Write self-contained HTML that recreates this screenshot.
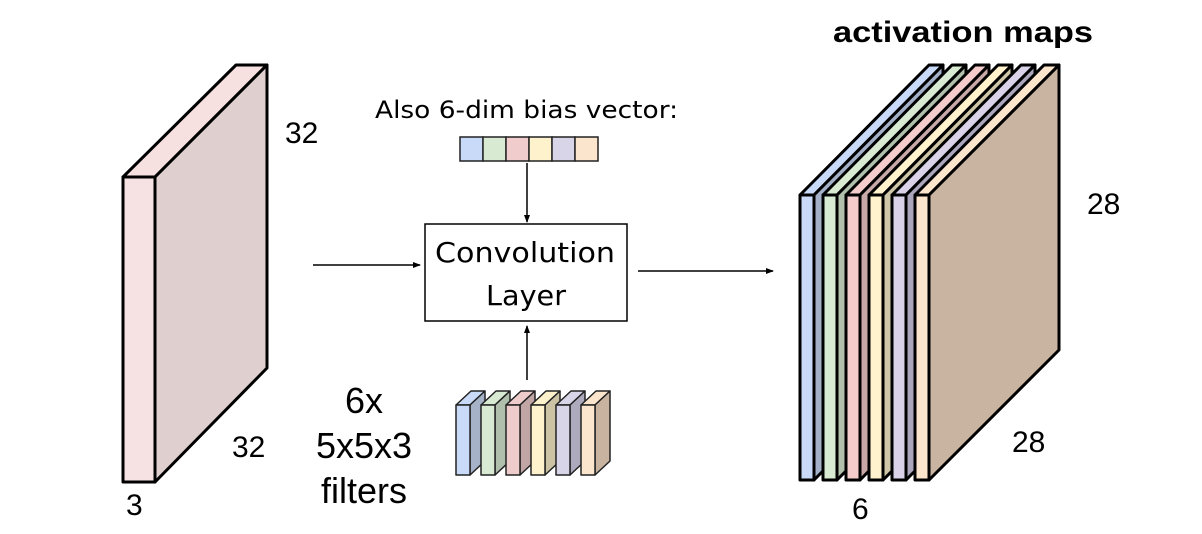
<!DOCTYPE html>
<html><head><style>
html,body{margin:0;padding:0;background:#fff;}
svg{display:block}
text{fill:#000}
.l{font-family:"Liberation Sans",sans-serif}
.d{font-family:"DejaVu Sans",sans-serif}
</style></head><body>
<svg width="1202" height="534" viewBox="0 0 1202 534" xmlns="http://www.w3.org/2000/svg">
<defs><marker id="ar" markerWidth="8" markerHeight="8" refX="7" refY="4" orient="auto" markerUnits="userSpaceOnUse"><path d="M0,1 L8,4 L0,7 z" fill="#000"/></marker></defs>
<g stroke="#000" stroke-width="3" stroke-linejoin="round">
<polygon points="123,177 236,65 267,65 155,177" fill="#f6e0e0"/>
<polygon points="155,177 267,65 267,368 155,482" fill="#dfcfcf"/>
<rect x="123" y="177" width="32" height="305" fill="#f6e2e2"/>
</g>
<text class="l" x="285" y="143" font-size="30">32</text>
<text class="l" x="232" y="457" font-size="30">32</text>
<text class="l" x="126" y="515" font-size="30">3</text>
<text class="d" x="375" y="118" font-size="24" textLength="303" lengthAdjust="spacingAndGlyphs">Also 6-dim bias vector:</text>
<g stroke="#222" stroke-width="1.5">
<rect x="460" y="137" width="23" height="24" fill="#c9daf8"/>
<rect x="483" y="137" width="23" height="24" fill="#d9ead3"/>
<rect x="506" y="137" width="23" height="24" fill="#f0cccc"/>
<rect x="529" y="137" width="23" height="24" fill="#fdf2cc"/>
<rect x="552" y="137" width="23" height="24" fill="#d9d5e9"/>
<rect x="575" y="137" width="23" height="24" fill="#fbe5cd"/>
</g>
<g stroke="#000" stroke-width="1.5">
<line x1="527" y1="163" x2="527" y2="222" marker-end="url(#ar)"/>
<line x1="527" y1="380" x2="527" y2="326" marker-end="url(#ar)"/>
<line x1="313" y1="265" x2="420" y2="265" marker-end="url(#ar)"/>
<line x1="638" y1="271" x2="773" y2="271" marker-end="url(#ar)"/>
</g>
<rect x="425" y="224" width="202" height="97" fill="#fff" stroke="#000" stroke-width="1.5"/>
<text class="d" x="435" y="262" font-size="28" textLength="180" lengthAdjust="spacingAndGlyphs">Convolution</text>
<text class="d" x="486" y="305" font-size="28" textLength="80" lengthAdjust="spacingAndGlyphs">Layer</text>
<g stroke="#222" stroke-width="1.5" stroke-linejoin="round">
<g><polygon points="456,405 471,391 485,391 470,405" fill="#c9daf8"/><polygon points="470,405 485,391 485,461 470,475" fill="#a6b2c8"/><rect x="456" y="405" width="14" height="70" fill="#c9daf8"/></g>
<g><polygon points="481,405 496,391 510,391 495,405" fill="#d9ead3"/><polygon points="495,405 510,391 510,461 495,475" fill="#b0bfab"/><rect x="481" y="405" width="14" height="70" fill="#d9ead3"/></g>
<g><polygon points="506,405 521,391 535,391 520,405" fill="#efcccc"/><polygon points="520,405 535,391 535,461 520,475" fill="#c2a6a6"/><rect x="506" y="405" width="14" height="70" fill="#efcccc"/></g>
<g><polygon points="531,405 546,391 560,391 545,405" fill="#fdf2cc"/><polygon points="545,405 560,391 560,461 545,475" fill="#cbc3a4"/><rect x="531" y="405" width="14" height="70" fill="#fdf2cc"/></g>
<g><polygon points="556,405 571,391 585,391 570,405" fill="#d9d5e9"/><polygon points="570,405 585,391 585,461 570,475" fill="#aeaabd"/><rect x="556" y="405" width="14" height="70" fill="#d9d5e9"/></g>
<g><polygon points="581,405 596,391 610,391 595,405" fill="#fbe5cd"/><polygon points="595,405 610,391 610,461 595,475" fill="#c7b39f"/><rect x="581" y="405" width="14" height="70" fill="#fbe5cd"/></g>
</g>
<text class="l" x="364" y="413" font-size="36" text-anchor="middle">6x</text>
<text class="l" x="364" y="458" font-size="36" text-anchor="middle">5x5x3</text>
<text class="l" x="364" y="503" font-size="36" text-anchor="middle">filters</text>
<text class="l" x="833" y="42" font-size="30" font-weight="bold" textLength="260" lengthAdjust="spacingAndGlyphs">activation maps</text>
<g stroke="#000" stroke-width="3" stroke-linejoin="round">
<g><polygon points="800,195 929,65 943,65 814,195" fill="#c9daf8"/><polygon points="814,195 943,65 943,350 814,480" fill="#a4b0c8"/><rect x="800" y="195" width="14" height="285" fill="#c9daf8"/></g>
<g><polygon points="823,195 952,65 966,65 837,195" fill="#d9ead3"/><polygon points="837,195 966,65 966,350 837,480" fill="#b0c0ac"/><rect x="823" y="195" width="14" height="285" fill="#d9ead3"/></g>
<g><polygon points="846,195 975,65 989,65 860,195" fill="#f4cccc"/><polygon points="860,195 989,65 989,350 860,480" fill="#c9a8a8"/><rect x="846" y="195" width="14" height="285" fill="#f4cccc"/></g>
<g><polygon points="869,195 998,65 1012,65 883,195" fill="#fff2cc"/><polygon points="883,195 1012,65 1012,350 883,480" fill="#d0c7a8"/><rect x="869" y="195" width="14" height="285" fill="#fff2cc"/></g>
<g><polygon points="892,195 1021,65 1035,65 906,195" fill="#d9d2e9"/><polygon points="906,195 1035,65 1035,350 906,480" fill="#aba6bc"/><rect x="892" y="195" width="14" height="285" fill="#d9d2e9"/></g>
<g><polygon points="915,195 1044,65 1059,65 929,195" fill="#fce5cd"/><polygon points="929,195 1059,65 1059,350 929,480" fill="#c8b4a0"/><rect x="915" y="195" width="14" height="285" fill="#fce5cd"/></g>
</g>
<text class="l" x="1087" y="214" font-size="30">28</text>
<text class="l" x="1012" y="452" font-size="30">28</text>
<text class="l" x="852" y="519" font-size="30">6</text>
</svg>
</body></html>
